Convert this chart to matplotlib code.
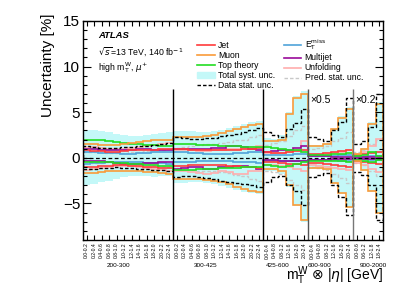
import numpy as np
import matplotlib
matplotlib.use("Agg")
import matplotlib.pyplot as plt
from matplotlib.patches import Patch
from matplotlib.lines import Line2D

plt.rcParams['font.family'] = ['Liberation Sans', 'DejaVu Sans']

# bins: 12 + 12 + 6 + 6 + 4 in |eta| for each mT range
groups = ["200-300", "300-425", "425-600", "600-900", "900-2000"]
group_sizes = [12, 12, 6, 6, 4]
group_scale_text = ["", "", "", "\u00d70.5", "\u00d70.2"]
eta_labels = (["0.0-0.2", "0.2-0.4", "0.4-0.6", "0.6-0.8", "0.8-1.0", "1.0-1.2",
               "1.2-1.4", "1.4-1.6", "1.6-1.8", "1.8-2.0", "2.0-2.2", "2.2-2.4"] * 2
              + ["0.0-0.4", "0.4-0.8", "0.8-1.2", "1.2-1.6", "1.6-2.0", "2.0-2.4"] * 2
              + ["0.0-0.6", "0.6-1.2", "1.2-1.8", "1.8-2.4"])

# values as drawn (last two groups already scaled by 0.5 and 0.2)
total_up = [3.1, 3.0, 2.9, 2.8, 2.6, 2.5, 2.4, 2.4, 2.5, 2.6, 2.7, 2.8,
            2.9, 2.9, 2.9, 2.8, 2.8, 2.9, 3.1, 3.3, 3.5, 3.7, 3.9, 4.0,
            2.2, 2.1, 2.5, 5.0, 6.8, 7.3,
            1.4, 1.4, 1.6, 3.3, 4.6, 5.6,
            0.5, 1.1, 3.9, 6.1]
total_down = [-3.0, -2.9, -2.7, -2.5, -2.3, -2.1, -2.0, -2.0, -2.0, -2.1, -2.0, -2.0,
              -2.8, -2.8, -2.7, -2.7, -2.8, -2.9, -3.1, -3.3, -3.5, -3.7, -3.9, -4.0,
              -1.5, -1.5, -1.8, -3.2, -5.3, -7.0,
              -1.2, -1.2, -1.3, -2.9, -4.0, -5.5,
              -0.5, -1.4, -3.7, -6.2]
muon_up = [1.5, 1.5, 1.4, 1.4, 1.4, 1.5, 1.6, 1.7, 1.8, 1.9, 2.0, 2.0,
           2.3, 2.3, 2.3, 2.3, 2.4, 2.5, 2.7, 2.9, 3.2, 3.4, 3.6, 3.7,
           1.8, 1.8, 2.0, 4.8, 6.5, 7.0,
           1.3, 1.3, 1.5, 3.2, 4.4, 5.4,
           0.4, 1.0, 3.7, 5.9]
muon_down = [-1.7, -1.7, -1.6, -1.5, -1.5, -1.5, -1.5, -1.5, -1.6, -1.6, -1.7, -1.8,
             -2.3, -2.3, -2.3, -2.3, -2.4, -2.5, -2.7, -2.9, -3.2, -3.4, -3.6, -3.7,
             -1.2, -1.2, -1.4, -3.0, -5.2, -6.8,
             -1.1, -1.1, -1.2, -2.8, -3.9, -5.4,
             -0.4, -1.3, -3.6, -6.0]
data_stat_up = [1.3, 1.2, 1.1, 1.1, 1.1, 1.2, 1.2, 1.3, 1.3, 1.4, 1.5, 1.6,
                2.3, 2.2, 2.1, 2.1, 2.2, 2.2, 2.4, 2.5, 2.6, 2.8, 3.0, 3.3,
                2.8, 2.5, 2.3, 3.2, 3.8, 5.4,
                2.3, 2.1, 1.8, 3.0, 3.9, 6.5,
                1.5, 1.8, 3.4, 7.0]
data_stat_down = [-1.2, -1.2, -1.1, -1.1, -1.0, -1.1, -1.1, -1.2, -1.2, -1.3, -1.3, -1.4,
                  -2.1, -2.0, -2.0, -2.1, -2.2, -2.3, -2.5, -2.6, -2.8, -2.9, -3.0, -3.2,
                  -2.7, -2.1, -2.0, -3.0, -3.6, -5.2,
                  -2.1, -1.9, -1.7, -3.0, -4.3, -6.3,
                  -1.6, -1.9, -3.0, -6.8]
top_up = [2.0, 2.0, 1.9, 1.8, 1.7, 1.6, 1.5, 1.5, 1.4, 1.4, 1.3, 1.3,
          1.5, 1.5, 1.5, 1.4, 1.4, 1.4, 1.3, 1.3, 1.3, 1.2, 1.2, 1.2,
          1.2, 1.1, 1.0, 0.9, 0.8, 0.6,
          0.3, 0.3, 0.3, 0.4, 0.4, 0.5,
          0.2, 0.3, 0.6, 0.2]
top_down = [-0.5, -0.5, -0.5, -0.5, -0.6, -0.6, -0.7, -0.7, -0.8, -0.8, -0.9, -0.9,
            -1.3, -1.3, -1.3, -1.2, -1.2, -1.2, -1.1, -1.1, -1.1, -1.0, -1.0, -1.0,
            -0.8, -0.9, -1.0, -0.9, -0.7, -0.5,
            -0.3, -0.3, -0.3, -0.4, -0.4, -0.5,
            -0.2, -0.3, -0.5, -0.2]
jet_up = [0.8, 0.7, 0.7, 0.6, 0.6, 0.7, 0.8, 0.8, 0.9, 0.9, 1.0, 1.0,
          1.0, 1.0, 0.9, 0.9, 0.8, 0.8, 0.8, 0.9, 0.9, 1.0, 1.0, 1.1,
          0.6, 0.5, 0.5, 0.6, 0.7, 0.8,
          0.4, 0.4, 0.5, 0.6, 0.7, 0.9,
          0.3, 0.4, 0.5, 0.6]
jet_down = [-1.0, -1.0, -0.9, -0.9, -0.8, -0.8, -0.9, -0.9, -1.0, -1.0, -1.1, -1.1,
            -0.9, -0.9, -0.8, -0.8, -0.8, -0.8, -0.8, -0.9, -0.9, -1.0, -1.0, -1.1,
            -0.5, -0.5, -0.6, -0.7, -0.7, -0.8,
            -0.6, -0.6, -0.7, -0.8, -0.9, -1.0,
            -0.4, -0.5, -0.6, -0.7]
met_up = [0.6, 0.6, 0.5, 0.5, 0.5, 0.4, 0.4, 0.5, 0.5, 0.6, 0.6, 0.6,
          0.6, 0.6, 0.5, 0.5, 0.4, 0.4, 0.4, 0.4, 0.5, 0.5, 0.6, 0.6,
          0.3, 0.3, 0.3, 0.3, 0.4, 0.4,
          0.2, 0.2, 0.2, 0.2, 0.3, 0.3,
          0.1, 0.1, 0.2, 0.2]
met_down = [-0.7, -0.6, -0.6, -0.5, -0.5, -0.5, -0.5, -0.5, -0.6, -0.6, -0.6, -0.7,
            -0.5, -0.5, -0.5, -0.4, -0.4, -0.4, -0.4, -0.4, -0.5, -0.5, -0.5, -0.6,
            -0.3, -0.3, -0.3, -0.3, -0.4, -0.4,
            -0.2, -0.2, -0.2, -0.2, -0.3, -0.3,
            -0.1, -0.1, -0.2, -0.2]
multijet_up = [1.0, 1.0, 0.9, 0.9, 0.8, 0.8, 0.9, 1.0, 1.0, 0.9, 0.8, 0.8,
               1.0, 1.0, 1.0, 1.0, 1.0, 1.1, 1.1, 1.3, 1.3, 1.2, 1.0, 0.9,
               0.6, 0.7, 0.8, 0.9, 1.1, 1.3,
               0.2, 0.2, 0.2, 0.1, 0.1, 0.1,
               0.1, 0.1, 0.1, 0.1]
multijet_down = [-0.3, -0.3, -0.4, -0.5, -0.6, -0.7, -0.7, -0.7, -0.6, -0.6, -0.5, -0.5,
                 -1.2, -1.1, -1.0, -1.0, -1.2, -1.2, -1.0, -1.0, -0.9, -0.9, -1.0, -1.2,
                 -0.2, -0.2, -0.3, -0.3, -0.4, -0.4,
                 -0.2, -0.2, -0.2, -0.1, -0.1, -0.1,
                 -0.1, -0.1, -0.1, -0.1]
unfold_up = [1.2, 1.2, 1.1, 1.0, 1.0, 1.0, 1.1, 1.2, 1.3, 1.4, 1.5, 1.6,
             0.9, 0.8, 0.8, 0.7, 0.7, 0.8, 0.9, 1.0, 1.0, 1.1, 1.2, 1.3,
             0.4, 0.5, 0.5, 0.6, 0.9, 1.8,
             0.3, 0.3, 0.4, 0.5, 0.6, 0.8,
             0.4, 0.6, 1.3, 2.1]
unfold_down = [-1.3, -1.2, -1.1, -1.0, -0.9, -0.9, -0.9, -1.0, -1.1, -1.2, -1.3, -1.4,
               -1.5, -1.5, -1.6, -1.7, -1.8, -1.7, -1.5, -1.6, -1.8, -1.8, -1.5, -1.5,
               -0.8, -0.8, -0.9, -1.0, -1.2, -1.4,
               -0.8, -0.9, -1.0, -1.1, -1.2, -1.3,
               -0.6, -0.8, -1.2, -1.6]
pred_stat_up = [0.6, 0.6, 0.6, 0.5, 0.5, 0.5, 0.6, 0.6, 0.7, 0.8, 0.9, 1.0,
                1.1, 1.2, 1.3, 1.4, 1.5, 1.5, 1.6, 1.7, 1.9, 2.0, 2.3, 2.5,
                1.4, 1.6, 1.8, 2.4, 3.0, 3.5,
                1.0, 1.1, 1.3, 1.8, 2.2, 2.8,
                0.6, 0.8, 1.5, 2.0]
pred_stat_down = [-0.6, -0.6, -0.6, -0.5, -0.5, -0.5, -0.6, -0.6, -0.7, -0.8, -0.9, -1.0,
                  -1.1, -1.2, -1.3, -1.4, -1.5, -1.5, -1.6, -1.7, -1.9, -2.0, -2.3, -2.5,
                  -1.4, -1.6, -1.8, -2.4, -3.0, -3.5,
                  -1.0, -1.1, -1.3, -1.8, -2.2, -2.8,
                  -0.6, -0.8, -1.5, -2.0]

n = len(eta_labels)
edges = np.arange(n + 1)
bounds = np.cumsum([0] + group_sizes)

fig = plt.figure(figsize=(3.99, 2.86), dpi=100)
ax = fig.add_axes([0.208, 0.161, 0.752, 0.766])

band_col = "#c4f8f8"
ax.stairs(total_up, edges, baseline=total_down, fill=True, color=band_col, lw=0)

styles = [
    (pred_stat_up, pred_stat_down, dict(color="#c8c8c8", lw=1.0, ls=(0, (2.5, 1.5)))),
    (unfold_up, unfold_down, dict(color="#ffadad", lw=1.2)),
    (met_up, met_down, dict(color="#4fa3d9", lw=1.2)),
    (multijet_up, multijet_down, dict(color="#9a0a9a", lw=1.2)),
    (jet_up, jet_down, dict(color="#ff3b3b", lw=1.2)),
    (top_up, top_down, dict(color="#22dd22", lw=1.2)),
    (muon_up, muon_down, dict(color="#f99b3a", lw=1.2)),
    (data_stat_up, data_stat_down, dict(color="black", lw=1.0, ls=(0, (2.5, 1.5)))),
]
for up, down, kw in styles:
    ax.stairs(up, edges, **kw)
    ax.stairs(down, edges, **kw)

ax.axhline(0, color="black", lw=0.9, ls=(0, (3, 2)))

sep_colors = ["black", "black", "#555555", "#777777"]
for b, c in zip(bounds[1:-1], sep_colors):
    ax.vlines(b, -9, 7.5, color=c, lw=1.0)

for b, txt in zip(bounds[:-1], group_scale_text):
    if txt:
        ax.text(b + 0.3, 6.3, txt, fontsize=7.5, va="center", ha="left")

ax.set_xlim(0, n)
ax.set_ylim(-9, 15)
ax.set_xticks(edges[:-1] + 0.5)
ax.set_xticklabels(eta_labels, rotation=90, fontsize=3.6)
ax.set_yticks([-5, 0, 5, 10, 15])
ax.set_yticklabels(["\u22125", "0", "5", "10", "15"], fontsize=11)
ax.set_yticks(np.arange(-9, 16, 1), minor=True)
ax.tick_params(axis="x", direction="in", length=3.5, width=0.8, top=True, pad=2)
ax.tick_params(axis="y", which="major", direction="in", length=6, width=0.8, right=True, pad=2)
ax.tick_params(axis="y", which="minor", direction="in", length=3, width=0.8, right=True)
for s in ax.spines.values():
    s.set_linewidth(1.0)

group_label_x = [4.7, 16.4, 25.9, 31.5, 38.7]
for gx, g in zip(group_label_x, groups):
    ax.text(gx, -11.8, g, fontsize=4.6, ha="center", va="center")

fig.text(48 / 399, 1 - 65 / 286, "Uncertainty [%]", rotation=90, fontsize=11,
         ha="center", va="center")
fig.text(383 / 399, 1 - 280 / 286, r"m$_{\mathrm{T}}^{\mathrm{W}}$ $\otimes$ |$\eta$| [GeV]",
         fontsize=10, ha="right", va="baseline")

ax.text(0.05, 0.92, "ATLAS", transform=ax.transAxes, fontsize=6.8,
        fontweight="bold", fontstyle="italic")
ax.text(0.05, 0.845, r"$\sqrt{s}$=13 TeV, 140 fb$^{-1}$", transform=ax.transAxes, fontsize=6.3)
ax.text(0.05, 0.775, r"high m$_{\mathrm{T}}^{\mathrm{W}}$, $\mu^{+}$", transform=ax.transAxes, fontsize=6.3)

handles = [
    Line2D([], [], color="#ff3b3b", lw=1.2),
    Line2D([], [], color="#f99b3a", lw=1.2),
    Line2D([], [], color="#22dd22", lw=1.2),
    Patch(color=band_col),
    Line2D([], [], color="black", lw=1.0, ls=(0, (2.5, 1.5))),
    Line2D([], [], color="#4fa3d9", lw=1.2),
    Line2D([], [], color="#9a0a9a", lw=1.2),
    Line2D([], [], color="#ffadad", lw=1.2),
    Line2D([], [], color="#c8c8c8", lw=1.0, ls=(0, (2.5, 1.5))),
]
labels = ["Jet", "Muon", "Top theory", "Total syst. unc.", "Data stat. unc.",
          r"E$_{\mathrm{T}}^{\mathrm{miss}}$", "Multijet", "Unfolding", "Pred. stat. unc."]
ax.legend(handles, labels, ncol=2, loc="upper left", bbox_to_anchor=(0.37, 0.94),
          frameon=False, fontsize=6.2, handlelength=2.0, handleheight=0.6,
          labelspacing=0.12, columnspacing=1.0, handletextpad=0.4, borderaxespad=0)

fig.savefig("out.png", dpi=100)
